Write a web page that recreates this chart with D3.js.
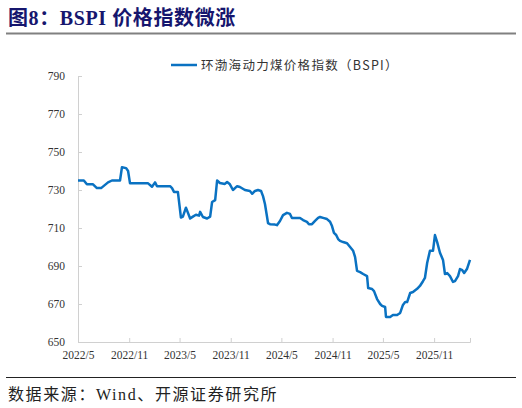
<!DOCTYPE html>
<html>
<head>
<meta charset="utf-8">
<script src="https://cdn.jsdelivr.net/npm/d3@7"></script>
<style>
  body { margin: 0; background: #fff; }
  svg { display: block; }
</style>
</head>
<body>
<div id="chart"></div>
<script>
// BSPI weekly readings
const dates = [
  "2022-05-01","2022-05-22","2022-06-02","2022-06-24","2022-07-08","2022-07-23","2022-08-17","2022-08-31",
  "2022-09-29","2022-10-06","2022-10-21","2022-10-28","2022-11-04","2023-01-08","2023-01-22","2023-02-02",
  "2023-02-09","2023-03-28","2023-04-04","2023-04-11","2023-04-25","2023-05-06","2023-05-13","2023-05-24",
  "2023-06-08","2023-06-18","2023-06-29","2023-07-10","2023-07-14","2023-07-24","2023-08-08","2023-08-19",
  "2023-08-26","2023-09-06","2023-09-13","2023-09-23","2023-10-11","2023-10-19","2023-10-29","2023-11-09",
  "2023-11-24","2023-12-04","2023-12-22","2024-01-09","2024-01-17","2024-01-27","2024-02-07","2024-02-18",
  "2024-02-25","2024-03-03","2024-03-10","2024-03-14","2024-03-21","2024-04-08","2024-04-15","2024-04-26",
  "2024-05-07","2024-05-21","2024-06-01","2024-06-08","2024-07-07","2024-07-18","2024-08-01","2024-08-08",
  "2024-08-19","2024-08-30","2024-09-10","2024-09-17","2024-09-28","2024-10-12","2024-10-23","2024-10-30",
  "2024-11-06","2024-11-14","2024-11-21","2024-11-28","2024-12-09","2024-12-23","2025-01-03","2025-01-14",
  "2025-01-21","2025-01-28","2025-02-08","2025-02-19","2025-03-05","2025-03-09","2025-03-23","2025-03-30",
  "2025-04-10","2025-04-21","2025-04-28","2025-05-09","2025-05-12","2025-05-27","2025-06-06","2025-06-21",
  "2025-07-02","2025-07-12","2025-07-20","2025-07-27","2025-08-07","2025-08-17","2025-09-01","2025-09-11",
  "2025-09-22","2025-09-29","2025-10-07","2025-10-17","2025-10-28","2025-11-04","2025-11-12","2025-11-22",
  "2025-12-03","2025-12-10","2025-12-18","2025-12-28","2026-01-08","2026-01-15","2026-01-26","2026-02-02",
  "2026-02-09","2026-02-17","2026-02-27","2026-03-10"
];
const bspi = [
  735, 735, 733, 733, 731, 731, 734, 735,
  735, 742, 741.5, 740, 733.5, 733.5, 731.7, 734,
  732, 732, 731, 729, 729, 715.5, 716, 720.7,
  715, 716, 717, 716.5, 718.5, 715.8, 715, 716,
  723.7, 724.7, 735, 733.7, 733.2, 734.2, 733, 730,
  732, 731.6, 730, 729.5, 728, 729.5, 730, 729.5,
  726.8, 722.6, 716.3, 712.6, 712, 711.8, 711.5, 713.7,
  716.8, 718, 717.4, 715.3, 715.3, 714.2, 713.2, 712,
  712, 713.7, 715.3, 715.8, 715.3, 714.7, 713.3, 711,
  707.4, 706.3, 704.2, 703.2, 702.6, 702, 700, 698,
  694.7, 687.4, 686.8, 685.8, 684.7, 678.4, 677.9, 676.8,
  672.6, 670, 669, 668.4, 663.2, 663.2, 664.2, 664.2,
  665.3, 669.5, 671, 671, 675.8, 676.3, 678, 679.5,
  682, 683.7, 691.6, 698, 698, 706.3, 702.6, 697,
  693.2, 685.8, 686.3, 684.7, 681.6, 682, 684.7, 688.4,
  688, 686.3, 688.4, 693.2
];
const yTicks = [650, 670, 690, 710, 730, 750, 770, 790];
const xTickDates = ["2022-05-01","2022-11-01","2023-05-01","2023-11-01","2024-05-01","2024-11-01","2025-05-01","2025-11-01"];
const seriesName = "环渤海动力煤价格指数（BSPI）";

const parse = d3.timeParse("%Y-%m-%d");
const data = dates.map((d, i) => ({ date: parse(d), value: bspi[i] }));

const W = 522, H = 408;
const serif = "'Liberation Serif', 'Noto Sans CJK SC', serif";

const svg = d3.select("#chart").append("svg")
    .attr("width", W)
    .attr("height", H);

// Title and rules
svg.append("text")
    .attr("x", 8).attr("y", 25)
    .attr("font-family", serif)
    .attr("font-weight", "bold")
    .attr("font-size", 20)
    .attr("letter-spacing", 0.6)
    .attr("fill", "#16166e")
    .text("图8：BSPI 价格指数微涨");

svg.append("line")
    .attr("x1", 6).attr("x2", 516)
    .attr("y1", 33.5).attr("y2", 33.5)
    .attr("stroke", "#808080")
    .attr("stroke-width", 2);

svg.append("line")
    .attr("x1", 6).attr("x2", 516)
    .attr("y1", 377.5).attr("y2", 377.5)
    .attr("stroke", "#222")
    .attr("stroke-width", 1);

svg.append("text")
    .attr("x", 8).attr("y", 400)
    .attr("font-family", serif)
    .attr("font-size", 16)
    .attr("letter-spacing", 1.6)
    .attr("fill", "#222")
    .text("数据来源：Wind、开源证券研究所");

// Scales
const x = d3.scaleTime()
    .domain([parse("2022-05-01"), parse("2026-03-10")])
    .range([78, 470]);

const y = d3.scaleLinear()
    .domain([650, 790])
    .range([342, 76]);

// Y axis (ticks inside, pointing right)
const yAxis = svg.append("g")
    .attr("transform", "translate(78,0)")
    .call(d3.axisRight(y).tickValues(yTicks).tickSize(4).tickFormat(d3.format("d")));
yAxis.select(".domain").attr("stroke", "#d0d0d0");
yAxis.selectAll(".tick line").attr("stroke", "#d0d0d0");
yAxis.selectAll(".tick text")
    .attr("x", -13)
    .attr("text-anchor", "end")
    .attr("font-family", serif)
    .attr("font-size", 11.5)
    .attr("fill", "#333");

// X axis (ticks inside, pointing up)
const xAxis = svg.append("g")
    .attr("transform", "translate(0,342)")
    .call(d3.axisTop(x)
        .tickValues(xTickDates.map(parse))
        .tickSize(4)
        .tickFormat(d => d.getFullYear() + "/" + (d.getMonth() + 1)));
xAxis.select(".domain").attr("stroke", "#d0d0d0");
xAxis.selectAll(".tick line").attr("stroke", "#d0d0d0");
xAxis.selectAll(".tick text")
    .attr("y", 17)
    .attr("dy", 0)
    .attr("font-family", serif)
    .attr("font-size", 11.5)
    .attr("fill", "#333");

// Line
const line = d3.line()
    .x(d => x(d.date))
    .y(d => y(d.value));

svg.append("path")
    .datum(data)
    .attr("d", line)
    .attr("fill", "none")
    .attr("stroke", "#0a72c2")
    .attr("stroke-width", 2.5)
    .attr("stroke-linejoin", "round");

// Legend
svg.append("line")
    .attr("x1", 171).attr("x2", 197)
    .attr("y1", 65).attr("y2", 65)
    .attr("stroke", "#0a72c2")
    .attr("stroke-width", 2.5);

svg.append("text")
    .attr("x", 201).attr("y", 69.5)
    .attr("font-family", "'Noto Sans CJK SC', sans-serif")
    .attr("font-size", 12.5)
    .attr("letter-spacing", 1.3)
    .attr("fill", "#333")
    .text(seriesName);
</script>
</body>
</html>
